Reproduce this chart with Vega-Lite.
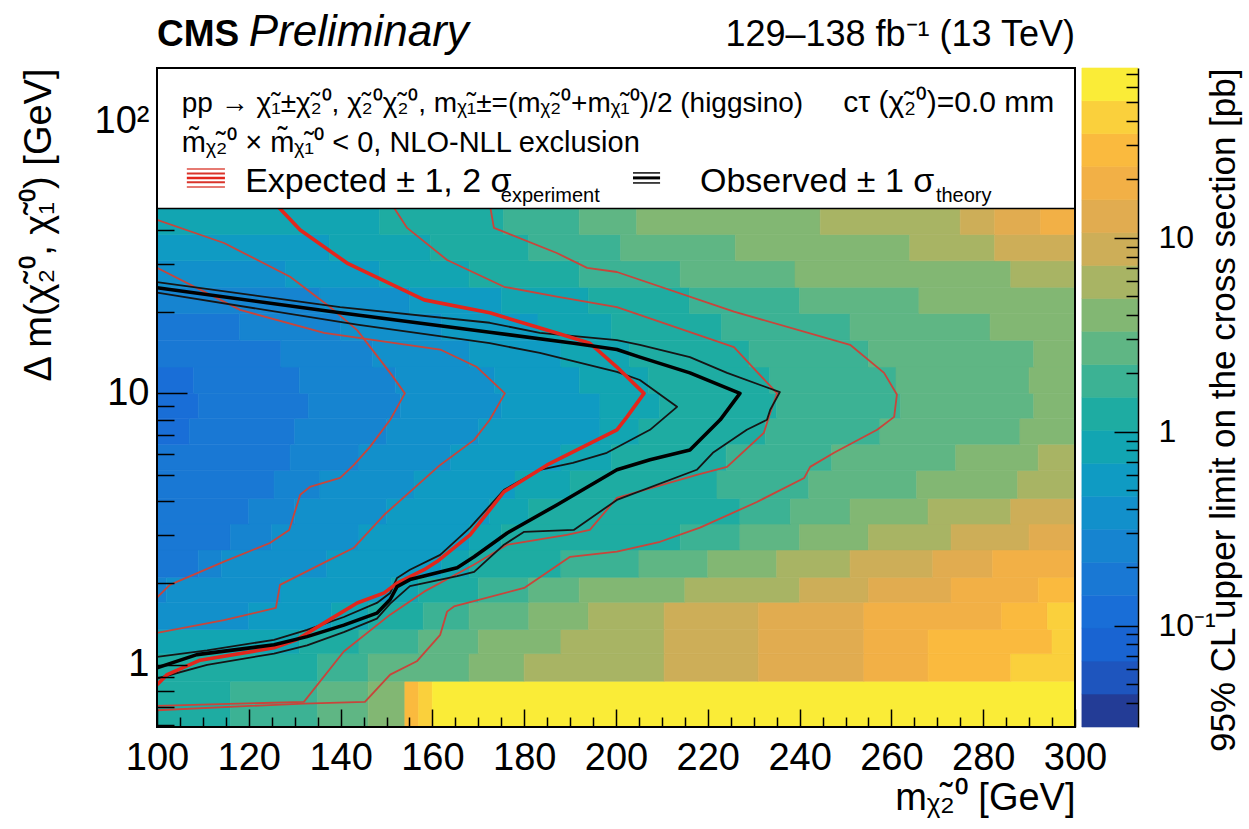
{
  "$schema": "https://vega.github.io/schema/vega-lite/v6.json",
  "background": "white",
  "width": 918,
  "height": 659,
  "autosize": {"type": "none"},
  "padding": {"left": 157, "top": 68, "right": 174, "bottom": 102},
  "config": {
    "view": {"stroke": "black", "strokeWidth": 2},
    "font": "Liberation Sans",
    "axis": {"grid": false, "domain": false, "labelFont": "Liberation Sans", "titleFont": "Liberation Sans", "labelColor": "black", "titleColor": "black", "tickColor": "black", "tickWidth": 1.5, "labelFontSize": 38, "titleFontSize": 38, "titleFontWeight": "normal"},
    "text": {"font": "Liberation Sans", "color": "black"}
  },
  "datasets": {
    "limits": [
      {"m0":100,"m1":116,"d0":0.59,"d1":0.87,"ul":1.2},{"m0":116,"m1":135,"d0":0.59,"d1":0.87,"ul":1.8},{"m0":135,"m1":146,"d0":0.59,"d1":0.87,"ul":2.7},{"m0":146,"m1":154,"d0":0.59,"d1":0.87,"ul":4},{"m0":154,"m1":157,"d0":0.59,"d1":0.87,"ul":28},{"m0":157,"m1":160,"d0":0.59,"d1":0.87,"ul":42},{"m0":160,"m1":300,"d0":0.59,"d1":0.87,"ul":70},
      {"m0":100,"m1":135,"d0":0.87,"d1":1.1,"ul":1.2},{"m0":135,"m1":146,"d0":0.87,"d1":1.1,"ul":1.8},{"m0":146,"m1":168,"d0":0.87,"d1":1.1,"ul":2.7},{"m0":168,"m1":180,"d0":0.87,"d1":1.1,"ul":4},{"m0":180,"m1":210.5,"d0":0.87,"d1":1.1,"ul":5.9},{"m0":210.5,"m1":231,"d0":0.87,"d1":1.1,"ul":8.7},{"m0":231,"m1":254,"d0":0.87,"d1":1.1,"ul":13},{"m0":254,"m1":268,"d0":0.87,"d1":1.1,"ul":19},{"m0":268,"m1":286,"d0":0.87,"d1":1.1,"ul":28},{"m0":286,"m1":300,"d0":0.87,"d1":1.1,"ul":42},
      {"m0":100,"m1":131,"d0":1.1,"d1":1.35,"ul":0.84},{"m0":131,"m1":144,"d0":1.1,"d1":1.35,"ul":1.2},{"m0":144,"m1":157,"d0":1.1,"d1":1.35,"ul":1.8},{"m0":157,"m1":170,"d0":1.1,"d1":1.35,"ul":2.7},{"m0":170,"m1":188,"d0":1.1,"d1":1.35,"ul":4},{"m0":188,"m1":210.5,"d0":1.1,"d1":1.35,"ul":5.9},{"m0":210.5,"m1":231,"d0":1.1,"d1":1.35,"ul":8.7},{"m0":231,"m1":254,"d0":1.1,"d1":1.35,"ul":13},{"m0":254,"m1":268,"d0":1.1,"d1":1.35,"ul":19},{"m0":268,"m1":295,"d0":1.1,"d1":1.35,"ul":28},{"m0":295,"m1":300,"d0":1.1,"d1":1.35,"ul":42},
      {"m0":100,"m1":120,"d0":1.35,"d1":1.7,"ul":0.38},{"m0":120,"m1":138,"d0":1.35,"d1":1.7,"ul":0.56},{"m0":138,"m1":146,"d0":1.35,"d1":1.7,"ul":0.84},{"m0":146,"m1":158,"d0":1.35,"d1":1.7,"ul":1.2},{"m0":158,"m1":168,"d0":1.35,"d1":1.7,"ul":1.8},{"m0":168,"m1":181,"d0":1.35,"d1":1.7,"ul":2.7},{"m0":181,"m1":194,"d0":1.35,"d1":1.7,"ul":4},{"m0":194,"m1":210.5,"d0":1.35,"d1":1.7,"ul":5.9},{"m0":210.5,"m1":231,"d0":1.35,"d1":1.7,"ul":8.7},{"m0":231,"m1":254,"d0":1.35,"d1":1.7,"ul":13},{"m0":254,"m1":284,"d0":1.35,"d1":1.7,"ul":19},{"m0":284,"m1":294,"d0":1.35,"d1":1.7,"ul":28},{"m0":294,"m1":300,"d0":1.35,"d1":1.7,"ul":42},
      {"m0":100,"m1":102,"d0":1.7,"d1":2.1,"ul":0.26},{"m0":102,"m1":127,"d0":1.7,"d1":2.1,"ul":0.38},{"m0":127,"m1":151,"d0":1.7,"d1":2.1,"ul":0.56},{"m0":151,"m1":157,"d0":1.7,"d1":2.1,"ul":0.84},{"m0":157,"m1":170,"d0":1.7,"d1":2.1,"ul":1.2},{"m0":170,"m1":181,"d0":1.7,"d1":2.1,"ul":1.8},{"m0":181,"m1":192,"d0":1.7,"d1":2.1,"ul":2.7},{"m0":192,"m1":215,"d0":1.7,"d1":2.1,"ul":4},{"m0":215,"m1":240,"d0":1.7,"d1":2.1,"ul":5.9},{"m0":240,"m1":255,"d0":1.7,"d1":2.1,"ul":8.7},{"m0":255,"m1":273,"d0":1.7,"d1":2.1,"ul":13},{"m0":273,"m1":292,"d0":1.7,"d1":2.1,"ul":19},{"m0":292,"m1":300,"d0":1.7,"d1":2.1,"ul":28},
      {"m0":100,"m1":109,"d0":2.1,"d1":2.65,"ul":0.17},{"m0":109,"m1":114,"d0":2.1,"d1":2.65,"ul":0.26},{"m0":114,"m1":137,"d0":2.1,"d1":2.65,"ul":0.38},{"m0":137,"m1":162,"d0":2.1,"d1":2.65,"ul":0.56},{"m0":162,"m1":168,"d0":2.1,"d1":2.65,"ul":0.84},{"m0":168,"m1":188,"d0":2.1,"d1":2.65,"ul":1.2},{"m0":188,"m1":205,"d0":2.1,"d1":2.65,"ul":1.8},{"m0":205,"m1":220,"d0":2.1,"d1":2.65,"ul":2.7},{"m0":220,"m1":235,"d0":2.1,"d1":2.65,"ul":4},{"m0":235,"m1":251,"d0":2.1,"d1":2.65,"ul":5.9},{"m0":251,"m1":269,"d0":2.1,"d1":2.65,"ul":8.7},{"m0":269,"m1":282,"d0":2.1,"d1":2.65,"ul":13},{"m0":282,"m1":300,"d0":2.1,"d1":2.65,"ul":19},
      {"m0":100,"m1":116,"d0":2.65,"d1":3.3,"ul":0.17},{"m0":116,"m1":125,"d0":2.65,"d1":3.3,"ul":0.26},{"m0":125,"m1":144,"d0":2.65,"d1":3.3,"ul":0.38},{"m0":144,"m1":168,"d0":2.65,"d1":3.3,"ul":0.56},{"m0":168,"m1":175,"d0":2.65,"d1":3.3,"ul":0.84},{"m0":175,"m1":214,"d0":2.65,"d1":3.3,"ul":1.2},{"m0":214,"m1":227,"d0":2.65,"d1":3.3,"ul":1.8},{"m0":227,"m1":240,"d0":2.65,"d1":3.3,"ul":2.7},{"m0":240,"m1":255,"d0":2.65,"d1":3.3,"ul":4},{"m0":255,"m1":273,"d0":2.65,"d1":3.3,"ul":5.9},{"m0":273,"m1":290,"d0":2.65,"d1":3.3,"ul":8.7},{"m0":290,"m1":300,"d0":2.65,"d1":3.3,"ul":13},
      {"m0":100,"m1":120,"d0":3.3,"d1":4.1,"ul":0.17},{"m0":120,"m1":130,"d0":3.3,"d1":4.1,"ul":0.26},{"m0":130,"m1":150,"d0":3.3,"d1":4.1,"ul":0.38},{"m0":150,"m1":172.5,"d0":3.3,"d1":4.1,"ul":0.56},{"m0":172.5,"m1":181,"d0":3.3,"d1":4.1,"ul":0.84},{"m0":181,"m1":227,"d0":3.3,"d1":4.1,"ul":1.2},{"m0":227,"m1":238,"d0":3.3,"d1":4.1,"ul":1.8},{"m0":238,"m1":251,"d0":3.3,"d1":4.1,"ul":2.7},{"m0":251,"m1":268,"d0":3.3,"d1":4.1,"ul":4},{"m0":268,"m1":286,"d0":3.3,"d1":4.1,"ul":5.9},{"m0":286,"m1":300,"d0":3.3,"d1":4.1,"ul":8.7},
      {"m0":100,"m1":125.5,"d0":4.1,"d1":5.2,"ul":0.17},{"m0":125.5,"m1":135.5,"d0":4.1,"d1":5.2,"ul":0.26},{"m0":135.5,"m1":156,"d0":4.1,"d1":5.2,"ul":0.38},{"m0":156,"m1":178,"d0":4.1,"d1":5.2,"ul":0.56},{"m0":178,"m1":190,"d0":4.1,"d1":5.2,"ul":0.84},{"m0":190,"m1":222,"d0":4.1,"d1":5.2,"ul":1.2},{"m0":222,"m1":242,"d0":4.1,"d1":5.2,"ul":1.8},{"m0":242,"m1":265.5,"d0":4.1,"d1":5.2,"ul":2.7},{"m0":265.5,"m1":287.5,"d0":4.1,"d1":5.2,"ul":4},{"m0":287.5,"m1":300,"d0":4.1,"d1":5.2,"ul":5.9},
      {"m0":100,"m1":129,"d0":5.2,"d1":6.5,"ul":0.17},{"m0":129,"m1":144,"d0":5.2,"d1":6.5,"ul":0.26},{"m0":144,"m1":164,"d0":5.2,"d1":6.5,"ul":0.38},{"m0":164,"m1":188,"d0":5.2,"d1":6.5,"ul":0.56},{"m0":188,"m1":199,"d0":5.2,"d1":6.5,"ul":0.84},{"m0":199,"m1":224,"d0":5.2,"d1":6.5,"ul":1.2},{"m0":224,"m1":247,"d0":5.2,"d1":6.5,"ul":1.8},{"m0":247,"m1":274,"d0":5.2,"d1":6.5,"ul":2.7},{"m0":274,"m1":292,"d0":5.2,"d1":6.5,"ul":4},{"m0":292,"m1":300,"d0":5.2,"d1":6.5,"ul":5.9},
      {"m0":100,"m1":107,"d0":6.5,"d1":8.1,"ul":0.12},{"m0":107,"m1":130,"d0":6.5,"d1":8.1,"ul":0.17},{"m0":130,"m1":150,"d0":6.5,"d1":8.1,"ul":0.26},{"m0":150,"m1":170,"d0":6.5,"d1":8.1,"ul":0.38},{"m0":170,"m1":196.5,"d0":6.5,"d1":8.1,"ul":0.56},{"m0":196.5,"m1":205,"d0":6.5,"d1":8.1,"ul":0.84},{"m0":205,"m1":232.5,"d0":6.5,"d1":8.1,"ul":1.2},{"m0":232.5,"m1":257.5,"d0":6.5,"d1":8.1,"ul":1.8},{"m0":257.5,"m1":288,"d0":6.5,"d1":8.1,"ul":2.7},{"m0":288,"m1":300,"d0":6.5,"d1":8.1,"ul":4},
      {"m0":100,"m1":109,"d0":8.1,"d1":10,"ul":0.12},{"m0":109,"m1":133,"d0":8.1,"d1":10,"ul":0.17},{"m0":133,"m1":153,"d0":8.1,"d1":10,"ul":0.26},{"m0":153,"m1":175,"d0":8.1,"d1":10,"ul":0.38},{"m0":175,"m1":196.5,"d0":8.1,"d1":10,"ul":0.56},{"m0":196.5,"m1":209.5,"d0":8.1,"d1":10,"ul":0.84},{"m0":209.5,"m1":235,"d0":8.1,"d1":10,"ul":1.2},{"m0":235,"m1":262,"d0":8.1,"d1":10,"ul":1.8},{"m0":262,"m1":291,"d0":8.1,"d1":10,"ul":2.7},{"m0":291,"m1":300,"d0":8.1,"d1":10,"ul":4},
      {"m0":100,"m1":108,"d0":10,"d1":12.5,"ul":0.12},{"m0":108,"m1":131,"d0":10,"d1":12.5,"ul":0.17},{"m0":131,"m1":152,"d0":10,"d1":12.5,"ul":0.26},{"m0":152,"m1":173.5,"d0":10,"d1":12.5,"ul":0.38},{"m0":173.5,"m1":192,"d0":10,"d1":12.5,"ul":0.56},{"m0":192,"m1":207,"d0":10,"d1":12.5,"ul":0.84},{"m0":207,"m1":233.5,"d0":10,"d1":12.5,"ul":1.2},{"m0":233.5,"m1":261,"d0":10,"d1":12.5,"ul":1.8},{"m0":261,"m1":290,"d0":10,"d1":12.5,"ul":2.7},{"m0":290,"m1":300,"d0":10,"d1":12.5,"ul":4},
      {"m0":100,"m1":127,"d0":12.5,"d1":15.7,"ul":0.17},{"m0":127,"m1":147,"d0":12.5,"d1":15.7,"ul":0.26},{"m0":147,"m1":168,"d0":12.5,"d1":15.7,"ul":0.38},{"m0":168,"m1":188,"d0":12.5,"d1":15.7,"ul":0.56},{"m0":188,"m1":203,"d0":12.5,"d1":15.7,"ul":0.84},{"m0":203,"m1":229,"d0":12.5,"d1":15.7,"ul":1.2},{"m0":229,"m1":255,"d0":12.5,"d1":15.7,"ul":1.8},{"m0":255,"m1":291,"d0":12.5,"d1":15.7,"ul":2.7},{"m0":291,"m1":300,"d0":12.5,"d1":15.7,"ul":4},
      {"m0":100,"m1":118,"d0":15.7,"d1":19.7,"ul":0.17},{"m0":118,"m1":140,"d0":15.7,"d1":19.7,"ul":0.26},{"m0":140,"m1":162,"d0":15.7,"d1":19.7,"ul":0.38},{"m0":162,"m1":183,"d0":15.7,"d1":19.7,"ul":0.56},{"m0":183,"m1":199,"d0":15.7,"d1":19.7,"ul":0.84},{"m0":199,"m1":223,"d0":15.7,"d1":19.7,"ul":1.2},{"m0":223,"m1":251,"d0":15.7,"d1":19.7,"ul":1.8},{"m0":251,"m1":281.5,"d0":15.7,"d1":19.7,"ul":2.7},{"m0":281.5,"m1":300,"d0":15.7,"d1":19.7,"ul":4},
      {"m0":100,"m1":135.5,"d0":19.7,"d1":24.6,"ul":0.26},{"m0":135.5,"m1":155,"d0":19.7,"d1":24.6,"ul":0.38},{"m0":155,"m1":175,"d0":19.7,"d1":24.6,"ul":0.56},{"m0":175,"m1":194,"d0":19.7,"d1":24.6,"ul":0.84},{"m0":194,"m1":216,"d0":19.7,"d1":24.6,"ul":1.2},{"m0":216,"m1":240,"d0":19.7,"d1":24.6,"ul":1.8},{"m0":240,"m1":266,"d0":19.7,"d1":24.6,"ul":2.7},{"m0":266,"m1":300,"d0":19.7,"d1":24.6,"ul":4},
      {"m0":100,"m1":128,"d0":24.6,"d1":30.8,"ul":0.38},{"m0":128,"m1":148.5,"d0":24.6,"d1":30.8,"ul":0.56},{"m0":148.5,"m1":168,"d0":24.6,"d1":30.8,"ul":0.84},{"m0":168,"m1":192,"d0":24.6,"d1":30.8,"ul":1.2},{"m0":192,"m1":214,"d0":24.6,"d1":30.8,"ul":1.8},{"m0":214,"m1":239,"d0":24.6,"d1":30.8,"ul":2.7},{"m0":239,"m1":286,"d0":24.6,"d1":30.8,"ul":4},{"m0":286,"m1":300,"d0":24.6,"d1":30.8,"ul":5.9},
      {"m0":100,"m1":137.5,"d0":30.8,"d1":38.5,"ul":0.56},{"m0":137.5,"m1":159.5,"d0":30.8,"d1":38.5,"ul":0.84},{"m0":159.5,"m1":181,"d0":30.8,"d1":38.5,"ul":1.2},{"m0":181,"m1":201,"d0":30.8,"d1":38.5,"ul":1.8},{"m0":201,"m1":226,"d0":30.8,"d1":38.5,"ul":2.7},{"m0":226,"m1":264,"d0":30.8,"d1":38.5,"ul":4},{"m0":264,"m1":282.5,"d0":30.8,"d1":38.5,"ul":5.9},{"m0":282.5,"m1":300,"d0":30.8,"d1":38.5,"ul":8.7},
      {"m0":100,"m1":148.5,"d0":38.5,"d1":48,"ul":0.84},{"m0":148.5,"m1":175.5,"d0":38.5,"d1":48,"ul":1.2},{"m0":175.5,"m1":192,"d0":38.5,"d1":48,"ul":1.8},{"m0":192,"m1":204.5,"d0":38.5,"d1":48,"ul":2.7},{"m0":204.5,"m1":244.5,"d0":38.5,"d1":48,"ul":4},{"m0":244.5,"m1":275,"d0":38.5,"d1":48,"ul":5.9},{"m0":275,"m1":282.5,"d0":38.5,"d1":48,"ul":8.7},{"m0":282.5,"m1":292.5,"d0":38.5,"d1":48,"ul":13},{"m0":292.5,"m1":300,"d0":38.5,"d1":48,"ul":19}
    ],
    "contours": [
      {"curve":"exp_outer2","i":0,"m":172.3,"dm":52},{"curve":"exp_outer2","i":1,"m":173.4,"dm":40.7},{"curve":"exp_outer2","i":2,"m":187.1,"dm":32.9},{"curve":"exp_outer2","i":3,"m":193.7,"dm":29},{"curve":"exp_outer2","i":4,"m":200.2,"dm":28},{"curve":"exp_outer2","i":5,"m":225.7,"dm":20},{"curve":"exp_outer2","i":6,"m":251,"dm":15.1},{"curve":"exp_outer2","i":7,"m":258.4,"dm":11.9},{"curve":"exp_outer2","i":8,"m":261.2,"dm":9.9},{"curve":"exp_outer2","i":9,"m":260.6,"dm":8.19},{"curve":"exp_outer2","i":10,"m":256.9,"dm":7.34},{"curve":"exp_outer2","i":11,"m":247.5,"dm":6.04},{"curve":"exp_outer2","i":12,"m":242.3,"dm":5.36},{"curve":"exp_outer2","i":13,"m":241,"dm":4.88},{"curve":"exp_outer2","i":14,"m":230.7,"dm":3.98},{"curve":"exp_outer2","i":15,"m":218.3,"dm":3.2},{"curve":"exp_outer2","i":16,"m":209.6,"dm":2.84},{"curve":"exp_outer2","i":17,"m":200.2,"dm":2.61},{"curve":"exp_outer2","i":18,"m":190,"dm":2.5},{"curve":"exp_outer2","i":19,"m":180,"dm":1.92},{"curve":"exp_outer2","i":20,"m":164.7,"dm":1.64},{"curve":"exp_outer2","i":21,"m":163.2,"dm":1.57},{"curve":"exp_outer2","i":22,"m":161.7,"dm":1.29},{"curve":"exp_outer2","i":23,"m":156.6,"dm":1.03},{"curve":"exp_outer2","i":24,"m":150.8,"dm":0.92},{"curve":"exp_outer2","i":25,"m":145.3,"dm":0.73},{"curve":"exp_outer2","i":26,"m":132,"dm":0.72},{"curve":"exp_outer2","i":27,"m":100,"dm":0.68},
      {"curve":"exp_outer1","i":0,"m":150.4,"dm":52},{"curve":"exp_outer1","i":1,"m":154.5,"dm":40.7},{"curve":"exp_outer1","i":2,"m":163.2,"dm":31},{"curve":"exp_outer1","i":3,"m":175.6,"dm":24.7},{"curve":"exp_outer1","i":4,"m":187.1,"dm":22.7},{"curve":"exp_outer1","i":5,"m":200.2,"dm":20.8},{"curve":"exp_outer1","i":6,"m":225.7,"dm":14.8},{"curve":"exp_outer1","i":7,"m":235.1,"dm":10},{"curve":"exp_outer1","i":8,"m":233.6,"dm":8.48},{"curve":"exp_outer1","i":9,"m":232.2,"dm":7.15},{"curve":"exp_outer1","i":10,"m":224.2,"dm":5.36},{"curve":"exp_outer1","i":11,"m":217.6,"dm":5.01},{"curve":"exp_outer1","i":12,"m":200.2,"dm":4.12},{"curve":"exp_outer1","i":13,"m":194.3,"dm":3.14},{"curve":"exp_outer1","i":14,"m":189.3,"dm":3.01},{"curve":"exp_outer1","i":15,"m":176.3,"dm":2.77},{"curve":"exp_outer1","i":16,"m":169.1,"dm":2.34},{"curve":"exp_outer1","i":17,"m":158.2,"dm":1.86},{"curve":"exp_outer1","i":18,"m":150.8,"dm":1.53},{"curve":"exp_outer1","i":19,"m":140.7,"dm":1.12},{"curve":"exp_outer1","i":20,"m":132,"dm":0.73},{"curve":"exp_outer1","i":21,"m":100,"dm":0.706},
      {"curve":"exp","i":0,"m":124.8,"dm":52},{"curve":"exp","i":1,"m":131.2,"dm":40},{"curve":"exp","i":2,"m":141.4,"dm":30.2},{"curve":"exp","i":3,"m":158.2,"dm":22.1},{"curve":"exp","i":4,"m":172.5,"dm":19.8},{"curve":"exp","i":5,"m":187.1,"dm":16.7},{"curve":"exp","i":6,"m":194.3,"dm":15.3},{"curve":"exp","i":7,"m":200.2,"dm":12.5},{"curve":"exp","i":8,"m":206.1,"dm":10},{"curve":"exp","i":9,"m":202.4,"dm":8.19},{"curve":"exp","i":10,"m":200.2,"dm":7.34},{"curve":"exp","i":11,"m":185,"dm":5.45},{"curve":"exp","i":12,"m":175.6,"dm":4.34},{"curve":"exp","i":13,"m":168.2,"dm":3.01},{"curve":"exp","i":14,"m":161,"dm":2.4},{"curve":"exp","i":15,"m":158.2,"dm":2.24},{"curve":"exp","i":16,"m":152.3,"dm":2},{"curve":"exp","i":17,"m":149.5,"dm":1.84},{"curve":"exp","i":18,"m":143.6,"dm":1.69},{"curve":"exp","i":19,"m":137.7,"dm":1.47},{"curve":"exp","i":20,"m":130.5,"dm":1.24},{"curve":"exp","i":21,"m":125.5,"dm":1.155},{"curve":"exp","i":22,"m":109.4,"dm":1.04},{"curve":"exp","i":23,"m":102.2,"dm":0.92},{"curve":"exp","i":24,"m":100,"dm":0.844},
      {"curve":"exp_inner2","i":0,"m":100,"dm":43.6},{"curve":"exp_inner2","i":1,"m":114.6,"dm":35.8},{"curve":"exp_inner2","i":2,"m":129,"dm":26.9},{"curve":"exp_inner2","i":3,"m":137.7,"dm":20.8},{"curve":"exp_inner2","i":4,"m":143.6,"dm":17.1},{"curve":"exp_inner2","i":5,"m":150.8,"dm":11.9},{"curve":"exp_inner2","i":6,"m":154,"dm":10},{"curve":"exp_inner2","i":7,"m":150.8,"dm":7.99},{"curve":"exp_inner2","i":8,"m":146.4,"dm":6.35},{"curve":"exp_inner2","i":9,"m":142.9,"dm":5.45},{"curve":"exp_inner2","i":10,"m":139.9,"dm":4.88},{"curve":"exp_inner2","i":11,"m":133.3,"dm":4.52},{"curve":"exp_inner2","i":12,"m":131.2,"dm":4.23},{"curve":"exp_inner2","i":13,"m":128.8,"dm":3.14},{"curve":"exp_inner2","i":14,"m":124.6,"dm":2.81},{"curve":"exp_inner2","i":15,"m":114.6,"dm":2.4},{"curve":"exp_inner2","i":16,"m":102.8,"dm":1.97},{"curve":"exp_inner2","i":17,"m":100,"dm":1.77},
      {"curve":"exp_inner1","i":0,"m":100,"dm":29},{"curve":"exp_inner1","i":1,"m":118.1,"dm":20.3},{"curve":"exp_inner1","i":2,"m":136.4,"dm":16.7},{"curve":"exp_inner1","i":3,"m":161.7,"dm":14.5},{"curve":"exp_inner1","i":4,"m":169.7,"dm":12.5},{"curve":"exp_inner1","i":5,"m":175.8,"dm":10},{"curve":"exp_inner1","i":6,"m":172.5,"dm":7.99},{"curve":"exp_inner1","i":7,"m":169.1,"dm":6.74},{"curve":"exp_inner1","i":8,"m":161.7,"dm":5.45},{"curve":"exp_inner1","i":9,"m":149.5,"dm":3.57},{"curve":"exp_inner1","i":10,"m":142.9,"dm":2.7},{"curve":"exp_inner1","i":11,"m":137.7,"dm":2.44},{"curve":"exp_inner1","i":12,"m":126.8,"dm":1.97},{"curve":"exp_inner1","i":13,"m":125.9,"dm":1.62},{"curve":"exp_inner1","i":14,"m":114.6,"dm":1.46},{"curve":"exp_inner1","i":15,"m":100,"dm":1.31},
      {"curve":"obs","i":0,"m":100,"dm":24.5},{"curve":"obs","i":1,"m":139.9,"dm":19.8},{"curve":"obs","i":2,"m":172.5,"dm":16.8},{"curve":"obs","i":3,"m":190.8,"dm":15.3},{"curve":"obs","i":4,"m":200.2,"dm":14.5},{"curve":"obs","i":5,"m":205.2,"dm":13.6},{"curve":"obs","i":6,"m":216.1,"dm":11.9},{"curve":"obs","i":7,"m":227,"dm":10},{"curve":"obs","i":8,"m":222.7,"dm":7.99},{"curve":"obs","i":9,"m":216.1,"dm":6.19},{"curve":"obs","i":10,"m":207.4,"dm":5.69},{"curve":"obs","i":11,"m":200.2,"dm":5.23},{"curve":"obs","i":12,"m":187.1,"dm":3.88},{"curve":"obs","i":13,"m":176.3,"dm":3.06},{"curve":"obs","i":14,"m":169.1,"dm":2.5},{"curve":"obs","i":15,"m":165.4,"dm":2.28},{"curve":"obs","i":16,"m":155.1,"dm":2.06},{"curve":"obs","i":17,"m":152.3,"dm":1.94},{"curve":"obs","i":18,"m":150.8,"dm":1.74},{"curve":"obs","i":19,"m":147.9,"dm":1.55},{"curve":"obs","i":20,"m":140.7,"dm":1.4},{"curve":"obs","i":21,"m":132.7,"dm":1.27},{"curve":"obs","i":22,"m":125.5,"dm":1.185},{"curve":"obs","i":23,"m":108.7,"dm":1.09},{"curve":"obs","i":24,"m":100,"dm":0.975},
      {"curve":"obs_inner","i":0,"m":100,"dm":23.5},{"curve":"obs_inner","i":1,"m":143.6,"dm":17.9},{"curve":"obs_inner","i":2,"m":172.5,"dm":15.3},{"curve":"obs_inner","i":3,"m":183.4,"dm":14.1},{"curve":"obs_inner","i":4,"m":200.2,"dm":12},{"curve":"obs_inner","i":5,"m":205.2,"dm":11.2},{"curve":"obs_inner","i":6,"m":213.3,"dm":8.92},{"curve":"obs_inner","i":7,"m":207.4,"dm":7.34},{"curve":"obs_inner","i":8,"m":198,"dm":6.04},{"curve":"obs_inner","i":9,"m":190.6,"dm":5.55},{"curve":"obs_inner","i":10,"m":183.4,"dm":5.23},{"curve":"obs_inner","i":11,"m":175.6,"dm":4.41},{"curve":"obs_inner","i":12,"m":168.2,"dm":3.2},{"curve":"obs_inner","i":13,"m":161.7,"dm":2.54},{"curve":"obs_inner","i":14,"m":155.1,"dm":2.24},{"curve":"obs_inner","i":15,"m":152.3,"dm":2.09},{"curve":"obs_inner","i":16,"m":150.8,"dm":1.84},{"curve":"obs_inner","i":17,"m":147.9,"dm":1.69},{"curve":"obs_inner","i":18,"m":140.7,"dm":1.5},{"curve":"obs_inner","i":19,"m":132.7,"dm":1.345},{"curve":"obs_inner","i":20,"m":125.5,"dm":1.236},{"curve":"obs_inner","i":21,"m":110.9,"dm":1.13},{"curve":"obs_inner","i":22,"m":100,"dm":1.07},
      {"curve":"obs_outer","i":0,"m":100,"dm":25.7},{"curve":"obs_outer","i":1,"m":139.9,"dm":20.8},{"curve":"obs_outer","i":2,"m":172.5,"dm":18.2},{"curve":"obs_outer","i":3,"m":183.4,"dm":16.7},{"curve":"obs_outer","i":4,"m":200.2,"dm":15.7},{"curve":"obs_outer","i":5,"m":205.2,"dm":15.1},{"curve":"obs_outer","i":6,"m":216.1,"dm":13.6},{"curve":"obs_outer","i":7,"m":224.2,"dm":11.9},{"curve":"obs_outer","i":8,"m":235.7,"dm":10.1},{"curve":"obs_outer","i":9,"m":233.6,"dm":8.7},{"curve":"obs_outer","i":10,"m":232.9,"dm":7.99},{"curve":"obs_outer","i":11,"m":228.5,"dm":7.34},{"curve":"obs_outer","i":12,"m":221.1,"dm":6.04},{"curve":"obs_outer","i":13,"m":217.6,"dm":5.23},{"curve":"obs_outer","i":14,"m":200.2,"dm":4.05},{"curve":"obs_outer","i":15,"m":190.8,"dm":3.14},{"curve":"obs_outer","i":16,"m":180,"dm":3.09},{"curve":"obs_outer","i":17,"m":175.6,"dm":2.77},{"curve":"obs_outer","i":18,"m":169.1,"dm":2.2},{"curve":"obs_outer","i":19,"m":165.4,"dm":2.12},{"curve":"obs_outer","i":20,"m":155.1,"dm":1.95},{"curve":"obs_outer","i":21,"m":150.8,"dm":1.68},{"curve":"obs_outer","i":22,"m":147.9,"dm":1.48},{"curve":"obs_outer","i":23,"m":140.7,"dm":1.32},{"curve":"obs_outer","i":24,"m":132.7,"dm":1.18},{"curve":"obs_outer","i":25,"m":125.5,"dm":1.1},{"curve":"obs_outer","i":26,"m":110.9,"dm":1},{"curve":"obs_outer","i":27,"m":100,"dm":0.89}
    ],
    "colorbar": [
      {"lo":0.03,"hi":0.0444,"mid":0.0365},{"lo":0.0444,"hi":0.0656,"mid":0.054},{"lo":0.0656,"hi":0.0971,"mid":0.08},{"lo":0.0971,"hi":0.1435,"mid":0.118},{"lo":0.1435,"hi":0.212,"mid":0.175},{"lo":0.212,"hi":0.314,"mid":0.258},{"lo":0.314,"hi":0.465,"mid":0.382},{"lo":0.465,"hi":0.687,"mid":0.565},{"lo":0.687,"hi":1.016,"mid":0.836},{"lo":1.016,"hi":1.503,"mid":1.24},{"lo":1.503,"hi":2.22,"mid":1.83},{"lo":2.22,"hi":3.29,"mid":2.7},{"lo":3.29,"hi":4.86,"mid":4},{"lo":4.86,"hi":7.19,"mid":5.9},{"lo":7.19,"hi":10.64,"mid":8.75},{"lo":10.64,"hi":15.7,"mid":12.9},{"lo":15.7,"hi":23.3,"mid":19.1},{"lo":23.3,"hi":34.4,"mid":28.3},{"lo":34.4,"hi":50.9,"mid":41.9},{"lo":50.9,"hi":75,"mid":62}
    ]
  },
  "resolve": {"scale": {"y": "independent"}, "axis": {"x": "independent", "y": "independent"}},
  "layer": [
    {
      "resolve": {"axis": {"x": "independent", "y": "independent"}},
      "layer": [
        {
          "data": {"name": "limits"},
          "mark": {"type": "rect", "strokeWidth": 0.6},
          "encoding": {
            "x": {"field": "m0", "type": "quantitative", "scale": {"domain": [100, 300], "nice": false, "zero": false},
              "axis": {"orient": "bottom", "values": [100,120,140,160,180,200,220,240,260,280,300], "ticks": false, "labelPadding": 12, "labelFlush": false, "labelOverlap": false, "title": "m\u1d6a\u0303\u2082\u2070 [GeV]", "titleAnchor": "end", "titlePadding": 2}},
            "x2": {"field": "m1"},
            "y": {"field": "d0", "type": "quantitative", "scale": {"type": "log", "domain": [0.59, 158], "nice": false},
              "axis": {"orient": "left", "values": [1, 10, 100], "ticks": false, "labelPadding": 8, "labelExpr": "datum.value >= 100 ? '10\u00b2' : datum.value >= 10 ? '10' : '1'", "title": "\u0394 m(\u03c7\u0303\u2082\u2070, \u03c7\u0303\u2081\u2070) [GeV]", "titleAnchor": "end", "titlePadding": 36}},
            "y2": {"field": "d1"},
            "fill": {"field": "ul", "type": "quantitative", "legend": null, "scale": {"type": "threshold", "domain": [0.0444,0.0656,0.0971,0.1435,0.212,0.314,0.465,0.687,1.016,1.503,2.22,3.29,4.86,7.19,10.64,15.7,23.3,34.4,50.9], "range": ["#233c96","#1e55be","#1964d2","#196ed7","#1978d4","#1684d0","#1290cb","#0f9bc3","#12a5b2","#1eaca2","#3cb294","#5fb684","#82b773","#a8b464","#cdae58","#e1ac50","#f2b046","#faba3e","#fad03c","#faec37"]}},
            "stroke": {"field": "ul", "type": "quantitative", "legend": null, "scale": {"type": "threshold", "domain": [0.0444,0.0656,0.0971,0.1435,0.212,0.314,0.465,0.687,1.016,1.503,2.22,3.29,4.86,7.19,10.64,15.7,23.3,34.4,50.9], "range": ["#233c96","#1e55be","#1964d2","#196ed7","#1978d4","#1684d0","#1290cb","#0f9bc3","#12a5b2","#1eaca2","#3cb294","#5fb684","#82b773","#a8b464","#cdae58","#e1ac50","#f2b046","#faba3e","#fad03c","#faec37"]}}
          }
        },
        {
          "data": {"name": "contours"},
          "transform": [{"filter": "datum.curve !== 'exp' && datum.curve !== 'obs'"}],
          "mark": {"type": "line", "strokeWidth": 1.8, "clip": true, "strokeJoin": "round"},
          "encoding": {
            "x": {"field": "m", "type": "quantitative", "scale": {"domain": [100, 300], "nice": false, "zero": false},
              "axis": {"orient": "bottom", "values": [100,120,140,160,180,200,220,240,260,280,300], "labels": false, "tickSize": -18, "zindex": 1, "title": null}},
            "y": {"field": "dm", "type": "quantitative", "scale": {"type": "log", "domain": [0.59, 158], "nice": false},
              "axis": {"orient": "left", "values": [1, 10], "labels": false, "tickSize": -30, "zindex": 1, "title": null}},
            "detail": {"field": "curve"},
            "order": {"field": "i", "type": "quantitative"},
            "color": {"field": "curve", "type": "nominal", "legend": null, "scale": {"domain": ["exp_inner2","exp_inner1","exp","exp_outer1","exp_outer2","obs_inner","obs","obs_outer"], "range": ["#c8453b","#c8453b","#e3261c","#c8453b","#c8453b","#151515","#000000","#151515"]}}
          }
        },
        {
          "data": {"name": "contours"},
          "transform": [{"filter": "datum.curve === 'exp' || datum.curve === 'obs'"}],
          "mark": {"type": "line", "strokeWidth": 3.6, "clip": true, "strokeJoin": "round"},
          "encoding": {
            "x": {"field": "m", "type": "quantitative", "scale": {"domain": [100, 300], "nice": false, "zero": false},
              "axis": {"orient": "bottom", "values": [105,110,115,125,130,135,145,150,155,165,170,175,185,190,195,205,210,215,225,230,235,245,250,255,265,270,275,285,290,295], "labels": false, "tickSize": -10, "zindex": 1, "title": null}},
            "y": {"field": "dm", "type": "quantitative", "scale": {"type": "log", "domain": [0.59, 158], "nice": false},
              "axis": {"orient": "left", "values": [0.6,0.7,0.8,0.9,2,3,4,5,6,7,8,9,20,30,40], "labels": false, "tickSize": -17, "zindex": 1, "title": null}},
            "detail": {"field": "curve"},
            "order": {"field": "i", "type": "quantitative"},
            "color": {"field": "curve", "type": "nominal", "legend": null}
          }
        },
        {
          "data": {"values": [{}]},
          "mark": {"type": "rect", "fill": "white", "stroke": "black", "strokeWidth": 1.5},
          "encoding": {"x": {"datum": 100, "axis": null}, "x2": {"datum": 300}, "y": {"datum": 48, "axis": null}, "y2": {"datum": 158}}
        },
        {
          "data": {"values": [{}]},
          "mark": {"type": "rect", "fillOpacity": 0, "stroke": "black", "strokeWidth": 2},
          "encoding": {"x": {"datum": 100, "axis": null}, "x2": {"datum": 300}, "y": {"datum": 0.59, "axis": null}, "y2": {"datum": 158}}
        },
        {
          "data": {"values": [{}]},
          "mark": {"type": "text", "text": "CMS", "fontSize": 37, "fontWeight": "bold", "align": "left", "baseline": "alphabetic"},
          "encoding": {"x": {"datum": 100, "axis": null}, "y": {"datum": 190, "axis": null}}
        },
        {
          "data": {"values": [{}]},
          "mark": {"type": "text", "text": "Preliminary", "fontSize": 44, "fontStyle": "italic", "align": "left", "baseline": "alphabetic"},
          "encoding": {"x": {"datum": 120, "axis": null}, "y": {"datum": 190, "axis": null}}
        },
        {
          "data": {"values": [{}]},
          "mark": {"type": "text", "text": "129\u2013138 fb\u207b\u00b9 (13 TeV)", "fontSize": 36, "align": "right", "baseline": "alphabetic"},
          "encoding": {"x": {"datum": 300, "axis": null}, "y": {"datum": 190, "axis": null}}
        },
        {
          "data": {"values": [{}]},
          "mark": {"type": "text", "text": "pp \u2192 \u03c7\u0303\u2081\u00b1\u03c7\u0303\u2082\u2070, \u03c7\u0303\u2082\u2070\u03c7\u0303\u2082\u2070, m\u1d6a\u0303\u2081\u00b1=(m\u1d6a\u0303\u2082\u2070+m\u1d6a\u0303\u2081\u2070)/2 (higgsino)", "fontSize": 28, "align": "left", "baseline": "alphabetic"},
          "encoding": {"x": {"datum": 105.4, "axis": null}, "y": {"datum": 108.9, "axis": null}}
        },
        {
          "data": {"values": [{}]},
          "mark": {"type": "text", "text": "c\u03c4 (\u03c7\u0303\u2082\u2070)=0.0 mm", "fontSize": 30, "align": "left", "baseline": "alphabetic"},
          "encoding": {"x": {"datum": 249.5, "axis": null}, "y": {"datum": 108.9, "axis": null}}
        },
        {
          "data": {"values": [{}]},
          "mark": {"type": "text", "text": "m\u0303\u1d6a\u0303\u2082\u2070 \u00d7 m\u0303\u1d6a\u0303\u2081\u2070 < 0, NLO-NLL exclusion", "fontSize": 29, "align": "left", "baseline": "alphabetic"},
          "encoding": {"x": {"datum": 105.4, "axis": null}, "y": {"datum": 77.5, "axis": null}}
        },
        {
          "data": {"values": [{}]},
          "mark": {"type": "text", "text": "Expected \u00b1 1, 2 \u03c3", "fontSize": 34, "align": "left", "baseline": "alphabetic"},
          "encoding": {"x": {"datum": 119.2, "axis": null}, "y": {"datum": 55.2, "axis": null}}
        },
        {
          "data": {"values": [{}]},
          "mark": {"type": "text", "text": "experiment", "fontSize": 20, "align": "left", "baseline": "alphabetic"},
          "encoding": {"x": {"datum": 174.9, "axis": null}, "y": {"datum": 50.6, "axis": null}}
        },
        {
          "data": {"values": [{}]},
          "mark": {"type": "text", "text": "Observed \u00b1 1 \u03c3", "fontSize": 34, "align": "left", "baseline": "alphabetic"},
          "encoding": {"x": {"datum": 218.3, "axis": null}, "y": {"datum": 55.2, "axis": null}}
        },
        {
          "data": {"values": [{}]},
          "mark": {"type": "text", "text": "theory", "fontSize": 20, "align": "left", "baseline": "alphabetic"},
          "encoding": {"x": {"datum": 269.7, "axis": null}, "y": {"datum": 50.6, "axis": null}}
        },
        {"data": {"values": [{}]}, "mark": {"type": "rule", "color": "#e67a72", "strokeWidth": 2}, "encoding": {"x": {"datum": 106.5, "axis": null}, "x2": {"datum": 114.8}, "y": {"datum": 67.1, "axis": null}}},
        {"data": {"values": [{}]}, "mark": {"type": "rule", "color": "#d9342b", "strokeWidth": 2}, "encoding": {"x": {"datum": 106.5, "axis": null}, "x2": {"datum": 114.8}, "y": {"datum": 64.6, "axis": null}}},
        {"data": {"values": [{}]}, "mark": {"type": "rule", "color": "#e3261c", "strokeWidth": 2.5}, "encoding": {"x": {"datum": 106.5, "axis": null}, "x2": {"datum": 114.8}, "y": {"datum": 62.2, "axis": null}}},
        {"data": {"values": [{}]}, "mark": {"type": "rule", "color": "#d9342b", "strokeWidth": 2}, "encoding": {"x": {"datum": 106.5, "axis": null}, "x2": {"datum": 114.8}, "y": {"datum": 59.9, "axis": null}}},
        {"data": {"values": [{}]}, "mark": {"type": "rule", "color": "#e67a72", "strokeWidth": 2}, "encoding": {"x": {"datum": 106.5, "axis": null}, "x2": {"datum": 114.8}, "y": {"datum": 57.6, "axis": null}}},
        {"data": {"values": [{}]}, "mark": {"type": "rule", "color": "#333333", "strokeWidth": 1.8}, "encoding": {"x": {"datum": 203.7, "axis": null}, "x2": {"datum": 209.6}, "y": {"datum": 64.9, "axis": null}}},
        {"data": {"values": [{}]}, "mark": {"type": "rule", "color": "#000000", "strokeWidth": 3}, "encoding": {"x": {"datum": 203.7, "axis": null}, "x2": {"datum": 209.6}, "y": {"datum": 62.2, "axis": null}}},
        {"data": {"values": [{}]}, "mark": {"type": "rule", "color": "#333333", "strokeWidth": 1.8}, "encoding": {"x": {"datum": 203.7, "axis": null}, "x2": {"datum": 209.6}, "y": {"datum": 59.6, "axis": null}}}
      ]
    },
    {
      "data": {"name": "colorbar"},
      "resolve": {"axis": {"y": "independent"}},
      "layer": [
        {
          "mark": {"type": "rect", "strokeWidth": 0.6},
          "encoding": {
            "x": {"datum": 301.5, "axis": null},
            "x2": {"datum": 313.7},
            "y": {"field": "lo", "type": "quantitative", "scale": {"type": "log", "domain": [0.03, 75], "nice": false},
              "axis": {"orient": "right", "offset": 63, "values": [0.1, 1, 10], "ticks": false, "labelPadding": 20, "labelFontSize": 32, "labelExpr": "datum.value < 0.5 ? '10\u207b\u00b9' : datum.value < 5 ? '1' : '10'", "title": "95% CL upper limit on the cross section [pb]", "titleFontSize": 35, "titleAngle": 270, "titleAnchor": "end", "titleBaseline": "top", "titlePadding": -9}},
            "y2": {"field": "hi"},
            "fill": {"field": "mid", "type": "quantitative", "legend": null, "scale": {"type": "threshold", "domain": [0.0444,0.0656,0.0971,0.1435,0.212,0.314,0.465,0.687,1.016,1.503,2.22,3.29,4.86,7.19,10.64,15.7,23.3,34.4,50.9], "range": ["#233c96","#1e55be","#1964d2","#196ed7","#1978d4","#1684d0","#1290cb","#0f9bc3","#12a5b2","#1eaca2","#3cb294","#5fb684","#82b773","#a8b464","#cdae58","#e1ac50","#f2b046","#faba3e","#fad03c","#faec37"]}},
            "stroke": {"field": "mid", "type": "quantitative", "legend": null, "scale": {"type": "threshold", "domain": [0.0444,0.0656,0.0971,0.1435,0.212,0.314,0.465,0.687,1.016,1.503,2.22,3.29,4.86,7.19,10.64,15.7,23.3,34.4,50.9], "range": ["#233c96","#1e55be","#1964d2","#196ed7","#1978d4","#1684d0","#1290cb","#0f9bc3","#12a5b2","#1eaca2","#3cb294","#5fb684","#82b773","#a8b464","#cdae58","#e1ac50","#f2b046","#faba3e","#fad03c","#faec37"]}}
          }
        },
        {
          "mark": {"type": "rect", "opacity": 0},
          "encoding": {
            "x": {"datum": 301.5, "axis": null},
            "x2": {"datum": 313.7},
            "y": {"field": "lo", "type": "quantitative", "scale": {"type": "log", "domain": [0.03, 75], "nice": false},
              "axis": {"orient": "right", "offset": 63, "values": [0.1, 1, 10], "labels": false, "tickSize": -24, "domain": true, "domainColor": "black", "domainWidth": 1.5, "zindex": 1, "title": null}},
            "y2": {"field": "hi"}
          }
        },
        {
          "mark": {"type": "rect", "opacity": 0},
          "encoding": {
            "x": {"datum": 301.5, "axis": null},
            "x2": {"datum": 313.7},
            "y": {"field": "lo", "type": "quantitative", "scale": {"type": "log", "domain": [0.03, 75], "nice": false},
              "axis": {"orient": "right", "offset": 63, "values": [0.04,0.05,0.06,0.07,0.08,0.09,0.2,0.3,0.4,0.5,0.6,0.7,0.8,0.9,2,3,4,5,6,7,8,9,20,30,40,50,60,70], "labels": false, "tickSize": -12, "zindex": 1, "title": null}},
            "y2": {"field": "hi"}
          }
        }
      ]
    }
  ]
}
